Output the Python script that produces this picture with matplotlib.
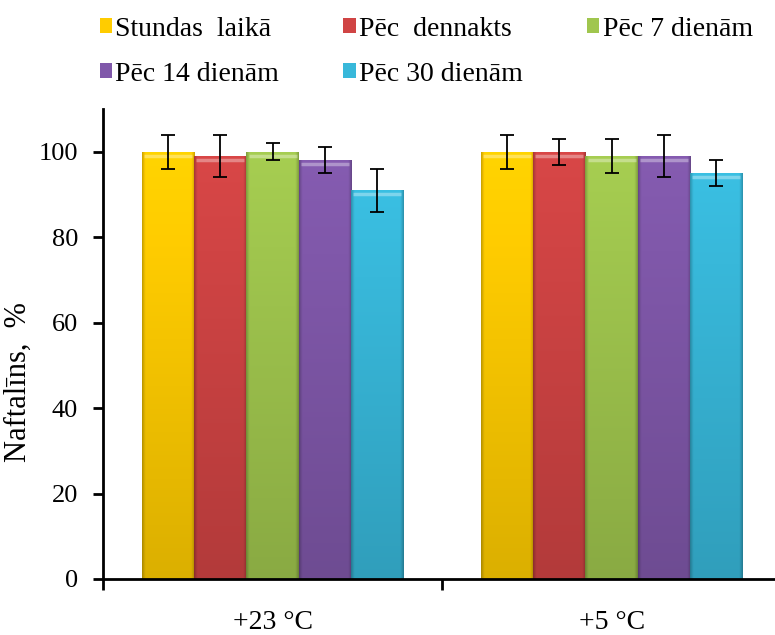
import numpy as np
import matplotlib
matplotlib.use("Agg")
import matplotlib.pyplot as plt
from matplotlib.patches import Patch
from matplotlib.colors import to_rgb

# ---- data -------------------------------------------------------------
groups = ["+23 °C", "+5 °C"]
series = ["Stundas  laikā", "Pēc  dennakts", "Pēc 7 dienām",
          "Pēc 14 dienām", "Pēc 30 dienām"]
values = [
    [100, 100],   # Stundas laikā
    [99, 100],    # Pēc dennakts
    [100, 99],    # Pēc 7 dienām
    [98, 99],     # Pēc 14 dienām
    [91, 95],     # Pēc 30 dienām
]
errors = [
    [4, 4],
    [5, 3],
    [2, 4],
    [3, 5],
    [5, 3],
]
y_ticks = [0, 20, 40, 60, 80, 100]
y_label = "Naftalīns,  %"

colors = ["#FFCC00", "#D04444", "#A0C64E", "#8058AA", "#38B8DA"]

plt.rcParams["font.family"] = ["Liberation Serif", "DejaVu Serif"]

fig = plt.figure(figsize=(7.75, 6.35), dpi=100)
ax = fig.add_axes([0.1329, 0.0882, 0.875, 0.7401])

n = len(series)
bar_w = 0.154
x = np.arange(len(groups))


def shaded_image(color, nx=60, ny=200):
    """Bevelled fill: darker at the sides and bottom, lighter towards the top."""
    base = np.array(to_rgb(color))
    u = np.linspace(0, 1, nx)
    v = np.linspace(0, 1, ny)[:, None]           # 0 = bottom, 1 = top
    side = 1.0 - 0.22 * np.clip(1 - u / 0.06, 0, 1) - 0.22 * np.clip(1 - (1 - u) / 0.06, 0, 1)
    vert = 0.86 + 0.18 * v
    img = base[None, None, :] * (vert * side[None, :])[:, :, None]
    return np.clip(img, 0, 1)


for i in range(n):
    pos = x + (i - (n - 1) / 2) * bar_w
    bars = ax.bar(pos, values[i], width=bar_w, color=colors[i],
                  edgecolor="none", zorder=2)
    for b in bars:
        x0, y0 = b.get_x(), b.get_y()
        w, h = b.get_width(), b.get_height()
        img = ax.imshow(shaded_image(colors[i]), extent=(x0, x0 + w, y0, y0 + h),
                        origin="lower", aspect="auto", zorder=2.5,
                        interpolation="bilinear")
        img.set_clip_path(b)
        # thin highlight along the top edge
        ax.plot([x0 + w * 0.04, x0 + w * 0.96], [y0 + h - 0.9, y0 + h - 0.9],
                color="white", alpha=0.35, lw=2.5, zorder=2.6,
                solid_capstyle="butt")
    ax.errorbar(pos, values[i], yerr=errors[i], fmt="none", ecolor="black",
                elinewidth=1.3, capsize=5, capthick=1.3, zorder=4)

ax.set_xlim(-0.5, len(groups) - 0.5)
ax.set_ylim(0, 110)
ax.set_yticks(y_ticks)
ax.set_xticks(np.arange(len(groups) + 1) - 0.5)
ax.set_xticklabels([])
ax.set_xticks(x, minor=True)
ax.set_xticklabels(groups, minor=True)

for s in ["top", "right"]:
    ax.spines[s].set_visible(False)
for s in ["left", "bottom"]:
    ax.spines[s].set_linewidth(2.0)

ax.tick_params(axis="y", direction="out", length=7, width=2.0, labelsize=19, pad=11)
ax.tick_params(axis="x", which="major", direction="out", length=8, width=2.0)
ax.tick_params(axis="x", which="minor", length=0, labelsize=20, pad=22)

ax.set_ylabel(y_label, fontsize=22)
ax.yaxis.set_label_coords(-0.104, 0.42)

handles = [Patch(facecolor=c, edgecolor="none") for c in colors]
order = [0, 3, 1, 4, 2]
fig.legend([handles[k] for k in order], [series[k] for k in order],
           ncol=3, loc="upper left", bbox_to_anchor=(0.107, 1.0),
           frameon=False, fontsize=20, handlelength=0.45, handleheight=0.45,
           handletextpad=0.12, columnspacing=2.3, labelspacing=0.72,
           borderaxespad=0.2)

fig.savefig("out.png", dpi=100)
